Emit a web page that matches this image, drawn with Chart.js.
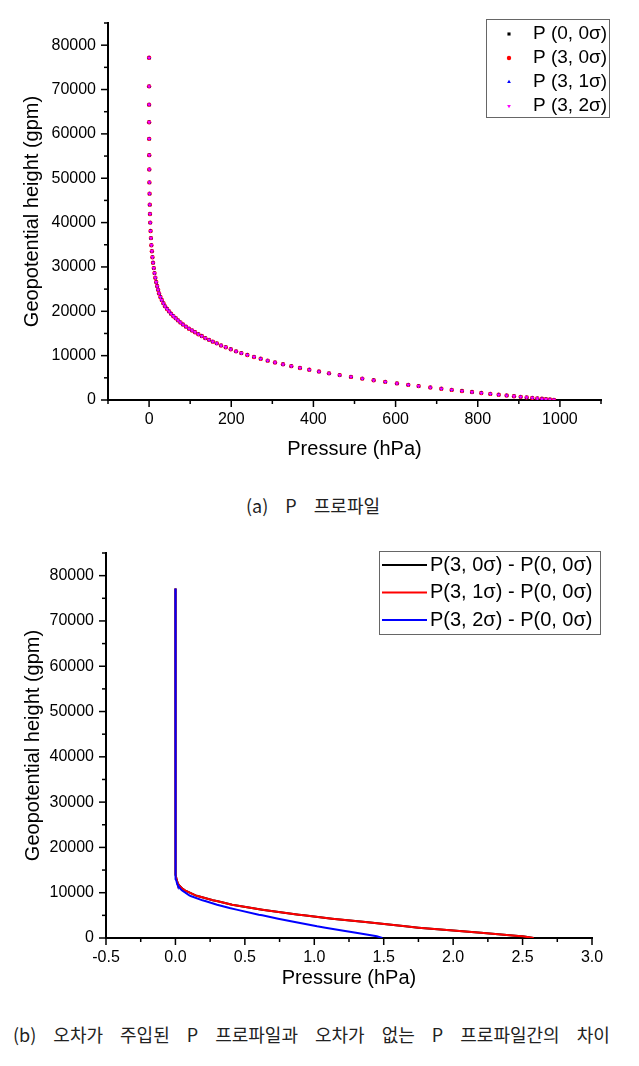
<!DOCTYPE html>
<html>
<head>
<meta charset="utf-8">
<title>P profile</title>
<script src="https://cdn.jsdelivr.net/npm/chart.js@4"></script>
<style>
  body { margin: 0; background: #fff; width: 639px; height: 1066px; position: relative; overflow: hidden; }
  canvas { position: absolute; left: 0; }
  #chartA { top: 0; }
  #chartB { top: 530px; }
  .cap { position: absolute; font-family: "Noto Sans CJK KR", sans-serif; font-size: 18px; line-height: 18px;
         color: #222; white-space: nowrap; word-spacing: 13px; }
  #capA { top: 496px; left: 246px; }
  #capB { top: 1025px; left: 13px; }
</style>
</head>
<body>
<canvas id="chartA" width="639" height="470"></canvas>
<canvas id="chartB" width="639" height="470"></canvas>
<div class="cap" id="capA">(a) P 프로파일</div>
<div class="cap" id="capB">(b) 오차가 주입된 P 프로파일과 오차가 없는 P 프로파일간의 차이</div>
<script>
// (a) model levels: geopotential height (gpm) and pressure (hPa)
const levelHeight = [77150, 70720, 66590, 62630, 58880, 55210, 51980, 49060, 46520, 44040,
  41950, 40000, 38100, 36500, 34900, 33550, 32200, 30940, 29740, 28610,
  27570, 26590, 25690, 24870, 24040, 23220, 22540, 21800, 21120, 20520,
  19980, 19440, 18890, 18420, 17950, 17480, 17010, 16540, 16070, 15680,
  15290, 14820, 14420, 13950, 13560, 13160, 12770, 12300, 11900, 11440,
  10970, 10574, 10148, 9704, 9288, 8876, 8467, 8047, 7635, 7229,
  6816, 6411, 6013, 5611, 5206, 4820, 4452, 4091, 3744, 3420,
  3135, 2823, 2539, 2281, 2030, 1792, 1576, 1372, 1187, 1013,
  855, 714, 589, 472, 370, 275, 195, 116, 36];
const presP00 = [0.015, 0.04, 0.075, 0.13, 0.22, 0.36, 0.55, 0.8, 1.15, 1.6,
  2.15, 2.8, 3.6, 4.5, 5.6, 6.8, 8.2, 9.7, 11.4, 13.2,
  15.2, 17.3, 19.6, 21.9, 24.3, 27.6, 30.8, 34.9, 38.9, 43.8,
  48.7, 53.5, 59.2, 64.9, 70.6, 76.3, 82.7, 90.0, 97.3, 104.6,
  111.9, 120.0, 128.2, 137.0, 146.0, 155.0, 164.7, 175.2, 186.6, 198.8,
  211.7, 224.6, 239.2, 255.4, 271.6, 288.6, 306.5, 326, 346.2, 367.3,
  390, 413.5, 437.9, 463.8, 491.4, 519, 546.6, 574.9, 603.3, 630.9,
  656, 684.6, 711.4, 736.5, 761.6, 786, 808.7, 830.6, 850.9, 870.3,
  888.2, 904.4, 919, 932.8, 945, 956.3, 966, 975.7, 985.5];
// the perturbed profiles differ by < 3 hPa, which is invisible at this scale
const presP30 = presP00, presP31 = presP00, presP32 = presP00;
const seriesA = ['P (0, 0σ)', 'P (3, 0σ)', 'P (3, 1σ)', 'P (3, 2σ)'];

// (b) pressure differences (hPa)
const diffHeight = [77150, 40000, 20000, 15000, 14000, 13000, 12730, 12000, 11630, 10890, 10520,
  9420, 9270, 8320, 8100, 7360, 6620, 6260, 5150, 5000, 4270, 3530, 2580, 2280, 1650, 1180, 440, 370, 0];
const diff30 = [0, 0, 0, 0, 0.003, 0.008, 0.01, 0.018, 0.026, 0.05, 0.068,
  0.145, 0.16, 0.27, 0.305, 0.408, 0.55, 0.625, 0.888, 0.925, 1.128, 1.368, 1.656, 1.75, 2.0, 2.2, 2.47, 2.5, 2.58];
const diff31 = diff30;
const diff32 = [0, 0, 0, 0, 0.001, 0.004, 0.006, 0.012, 0.017, 0.035, 0.046,
  0.1, 0.11, 0.195, 0.22, 0.3, 0.39, 0.44, 0.6, 0.625, 0.74, 0.86, 1.02, 1.08, 1.2, 1.3, 1.44, 1.45, 1.49];
const seriesB = ['P(3, 0σ) - P(0, 0σ)', 'P(3, 1σ) - P(0, 0σ)', 'P(3, 2σ) - P(0, 0σ)'];

Chart.defaults.font.family = '"Liberation Sans", Arial, sans-serif';
Chart.defaults.color = '#000';

function pts(xs, ys) { return ys.map((y, i) => ({ x: xs[i], y: y })); }

// minor + major tick marks drawn outward from the axis lines
const axisTicks = {
  id: 'axisTicks',
  afterDraw(chart, args, o) {
    const ctx = chart.ctx;
    ctx.save();
    ctx.strokeStyle = '#000';
    ctx.lineWidth = 1.5;
    for (const id of ['x', 'y']) {
      const s = chart.scales[id], t = o[id];
      const n = Math.round((s.max - s.min) / t.minor);
      for (let i = 0; i <= n; i++) {
        const v = s.min + i * t.minor;
        const q = v / t.major;
        const len = Math.abs(q - Math.round(q)) < 1e-6 ? o.majorLen : o.minorLen;
        const p = s.getPixelForValue(v);
        ctx.beginPath();
        if (id === 'x') { ctx.moveTo(p, s.top); ctx.lineTo(p, s.top + len); }
        else { ctx.moveTo(s.right, p); ctx.lineTo(s.right - len, p); }
        ctx.stroke();
      }
    }
    ctx.restore();
  }
};

// framed legend inside the plot, top right
const boxLegend = {
  id: 'boxLegend',
  afterDraw(chart, args, o) {
    const ctx = chart.ctx;
    ctx.save();
    ctx.strokeStyle = '#666';
    ctx.lineWidth = 1;
    ctx.fillStyle = '#fff';
    ctx.fillRect(o.left, o.top, o.width, o.height);
    ctx.strokeRect(o.left + 0.5, o.top + 0.5, o.width, o.height);
    ctx.font = o.font;
    ctx.textBaseline = 'middle';
    chart.data.datasets.forEach((ds, i) => {
      const y = o.firstRow + i * o.rowStep;
      if (o.kind === 'line') {
        ctx.strokeStyle = ds.borderColor;
        ctx.lineWidth = ds.borderWidth;
        ctx.beginPath();
        ctx.moveTo(o.sampleX0, y);
        ctx.lineTo(o.sampleX1, y);
        ctx.stroke();
      } else {
        ctx.fillStyle = ds.pointBackgroundColor;
        ctx.strokeStyle = ds.pointBackgroundColor;
        Chart.helpers.drawPoint(ctx, { pointStyle: ds.pointStyle, radius: ds.pointRadius,
          rotation: ds.pointRotation || 0, borderWidth: 0 }, o.sampleX, y);
      }
      ctx.fillStyle = '#000';
      ctx.fillText(ds.label, o.textX, y);
    });
    ctx.restore();
  }
};

function yScale(width, titlePad) {
  return {
    type: 'linear', min: 0, max: 85000,
    afterFit: s => { s.width = width; },
    border: { display: true, color: '#000', width: 2 },
    grid: { drawOnChartArea: false, drawTicks: false },
    ticks: { stepSize: 5000, autoSkip: false, padding: 12, font: { size: 16 },
      callback: v => (v % 10000 === 0 ? String(v) : '') },
    title: { display: true, text: 'Geopotential height (gpm)', font: { size: 20 },
      padding: { top: titlePad, bottom: 0 } }
  };
}

function scatterSet(label, data, color, style, rot, order) {
  return { label: label, data: data, showLine: false, pointStyle: style, pointRotation: rot,
    pointRadius: 2.2, pointBorderWidth: 0, pointBackgroundColor: color, pointBorderColor: color,
    backgroundColor: color, order: order };
}

new Chart(document.getElementById('chartA'), {
  type: 'scatter',
  data: {
    datasets: [
      scatterSet(seriesA[0], pts(presP00, levelHeight), '#000000', 'rect', 0, 4),
      scatterSet(seriesA[1], pts(presP30, levelHeight), '#ff0000', 'circle', 0, 3),
      scatterSet(seriesA[2], pts(presP31, levelHeight), '#0000ff', 'triangle', 0, 2),
      scatterSet(seriesA[3], pts(presP32, levelHeight), '#ff00ff', 'triangle', 180, 1)
    ]
  },
  options: {
    responsive: false, animation: false, events: [],
    layout: { padding: { top: 23, right: 38, left: 0, bottom: 0 } },
    scales: {
      x: {
        type: 'linear', min: -100, max: 1100,
        afterFit: s => { s.height = 70; },
        border: { display: true, color: '#000', width: 2 },
        grid: { drawOnChartArea: false, drawTicks: false },
        ticks: { stepSize: 100, autoSkip: false, maxRotation: 0, padding: 10, font: { size: 16 },
          callback: v => (v % 200 === 0 ? String(v) : '') },
        title: { display: true, text: 'Pressure (hPa)', font: { size: 20 }, padding: { top: 0, bottom: 9 } }
      },
      y: yScale(108, 20)
    },
    plugins: {
      legend: { display: false }, tooltip: { enabled: false },
      axisTicks: { x: { minor: 100, major: 200 }, y: { minor: 5000, major: 10000 }, majorLen: 7, minorLen: 4 },
      boxLegend: { kind: 'point', left: 486, top: 19, width: 123, height: 98, firstRow: 34, rowStep: 24,
        sampleX: 509, textX: 533, font: '19px "Liberation Sans", Arial, sans-serif' }
    }
  },
  plugins: [axisTicks, boxLegend]
});

function lineSet(label, data, color, order) {
  return { label: label, data: data, showLine: true, borderColor: color, borderWidth: 2,
    pointRadius: 0, fill: false, tension: 0, order: order };
}

new Chart(document.getElementById('chartB'), {
  type: 'scatter',
  data: {
    datasets: [
      lineSet(seriesB[0], pts(diff30, diffHeight), '#000000', 3),
      lineSet(seriesB[1], pts(diff31, diffHeight), '#ff0000', 2),
      lineSet(seriesB[2], pts(diff32, diffHeight), '#0000ff', 1)
    ]
  },
  options: {
    responsive: false, animation: false, events: [],
    layout: { padding: { top: 23, right: 47, left: 0, bottom: 0 } },
    scales: {
      x: {
        type: 'linear', min: -0.5, max: 3.0,
        afterFit: s => { s.height = 62; },
        border: { display: true, color: '#000', width: 2 },
        grid: { drawOnChartArea: false, drawTicks: false },
        ticks: { stepSize: 0.25, autoSkip: false, maxRotation: 0, padding: 10, font: { size: 16 },
          callback: v => (Math.abs(v * 2 - Math.round(v * 2)) < 1e-9 ? v.toFixed(1) : '') },
        title: { display: true, text: 'Pressure (hPa)', font: { size: 20 }, padding: { top: 0, bottom: 10 } }
      },
      y: yScale(106, 21)
    },
    plugins: {
      legend: { display: false }, tooltip: { enabled: false },
      axisTicks: { x: { minor: 0.25, major: 0.5 }, y: { minor: 5000, major: 10000 }, majorLen: 7, minorLen: 4 },
      boxLegend: { kind: 'line', left: 379, top: 21, width: 221, height: 83, firstRow: 35, rowStep: 27.5,
        sampleX0: 382, sampleX1: 427, textX: 430, font: '20px "Liberation Sans", Arial, sans-serif' }
    }
  },
  plugins: [axisTicks, boxLegend]
});
</script>
</body>
</html>
